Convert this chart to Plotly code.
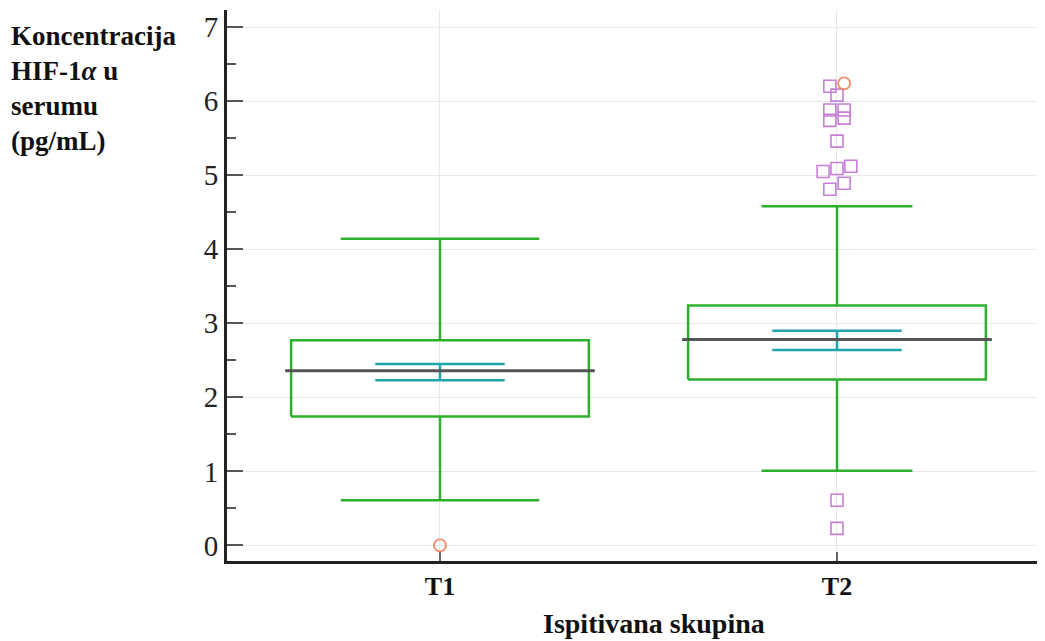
import plotly.graph_objects as go

# ---- data ----
groups = ["T1", "T2"]
q1 = [1.74, 2.24]
q3 = [2.77, 3.24]
center_line = [2.36, 2.78]
ci_low = [2.23, 2.64]
ci_high = [2.45, 2.90]
whisker_low = [0.61, 1.01]
whisker_high = [4.14, 4.58]

# outliers (far = circles, outside = squares)
sq_group = [1, 1, 1, 1, 1, 1, 1, 1, 1, 1, 1, 1, 1, 1]
sq_jitter = [-0.018, 0.0, -0.018, 0.018, -0.018, 0.018, 0.0, -0.035, 0.0, 0.035, -0.018, 0.018, 0.0, 0.0]
sq_values = [6.20, 6.08, 5.88, 5.88, 5.74, 5.77, 5.46, 5.05, 5.09, 5.12, 4.81, 4.89, 0.61, 0.23]
circ_group = [0, 1]
circ_jitter = [0.0, 0.018]
circ_values = [0.0, 6.24]

yticks = [0, 1, 2, 3, 4, 5, 6, 7]

# ---- style ----
BOX_HALF = 0.375
LINE_HALF = 0.39
CAP_HALF = [0.25, 0.19]
CI_HALF = 0.163
GREEN = "#2bb02b"
CYAN = "#1fa6ad"
DARK = "#555555"
VIOLET = "#c77fd6"
ORANGE = "#f28a6a"
FONT = "Liberation Serif"

fig = go.Figure()

for i, g in enumerate(groups):
    x = i
    fig.add_trace(go.Scatter(x=[x, x, None, x, x], y=[q3[i], whisker_high[i], None, q1[i], whisker_low[i]],
                             mode="lines", line=dict(color=GREEN, width=2.5), hoverinfo="skip", showlegend=False))
    fig.add_trace(go.Scatter(x=[x - CAP_HALF[i], x + CAP_HALF[i], None, x - CAP_HALF[i], x + CAP_HALF[i]],
                             y=[whisker_high[i], whisker_high[i], None, whisker_low[i], whisker_low[i]],
                             mode="lines", line=dict(color=GREEN, width=2.5), hoverinfo="skip", showlegend=False))
    fig.add_trace(go.Scatter(x=[x - BOX_HALF, x + BOX_HALF, x + BOX_HALF, x - BOX_HALF, x - BOX_HALF],
                             y=[q1[i], q1[i], q3[i], q3[i], q1[i]],
                             mode="lines", line=dict(color=GREEN, width=2.5), hoverinfo="skip", showlegend=False))
    fig.add_trace(go.Scatter(x=[x - CI_HALF, x + CI_HALF, None, x - CI_HALF, x + CI_HALF, None, x, x],
                             y=[ci_high[i], ci_high[i], None, ci_low[i], ci_low[i], None, ci_low[i], ci_high[i]],
                             mode="lines", line=dict(color=CYAN, width=2.5), hoverinfo="skip", showlegend=False))
    fig.add_trace(go.Scatter(x=[x - LINE_HALF, x + LINE_HALF], y=[center_line[i], center_line[i]],
                             mode="lines", line=dict(color=DARK, width=3), hoverinfo="skip", showlegend=False))

fig.add_trace(go.Scatter(x=[g + j for g, j in zip(sq_group, sq_jitter)], y=sq_values, mode="markers",
                         marker=dict(symbol="square-open", size=12, color=VIOLET, line=dict(width=1.6)),
                         hoverinfo="y", showlegend=False))
fig.add_trace(go.Scatter(x=[g + j for g, j in zip(circ_group, circ_jitter)], y=circ_values, mode="markers",
                         marker=dict(symbol="circle-open", size=12, color=ORANGE, line=dict(width=1.8)),
                         hoverinfo="y", showlegend=False))

fig.update_layout(
    width=1037, height=633,
    margin=dict(l=219, r=0, t=2, b=80),
    plot_bgcolor="white", paper_bgcolor="white",
    font=dict(family=FONT, color="#222222"),
    xaxis=dict(range=[-0.5365, 1.524], tickvals=[0, 1], ticktext=["<b>" + g + "</b>" for g in groups],
               tickfont=dict(size=26, family=FONT, color="#111111"),
               showgrid=True, gridcolor="#e8e8e8", gridwidth=1,
               showline=True, linecolor="#222222", linewidth=3,
               ticks="inside", ticklen=9, tickcolor="#666666", tickwidth=2,
               zeroline=False),
    yaxis=dict(range=[-0.21, 7.23], tickvals=yticks, ticktext=[str(v) for v in yticks],
               tickfont=dict(size=29, family=FONT, color="#222222"),
               showgrid=True, gridcolor="#e8e8e8", gridwidth=1,
               showline=True, linecolor="#222222", linewidth=3,
               ticks="inside", ticklen=16, tickcolor="#555555", tickwidth=2,
               minor=dict(ticks="inside", ticklen=9, dtick=0.5, tick0=0, tickcolor="#555555", tickwidth=2, showgrid=False),
               zeroline=False),
    annotations=[
        dict(text="<b>Koncentracija<br>HIF-1<i>α</i> u<br>serumu<br>(pg/mL)</b>", xref="paper", yref="paper",
             x=-0.266, y=0.984, xanchor="left", yanchor="top", align="left", showarrow=False,
             font=dict(size=27, family=FONT, color="#111111")),
        dict(text="<b>Ispitivana skupina</b>", xref="paper", yref="paper", x=0.522, y=-0.114,
             xanchor="center", yanchor="middle", showarrow=False,
             font=dict(size=28, family=FONT, color="#111111")),
    ],
)

fig.write_html("out.html")
